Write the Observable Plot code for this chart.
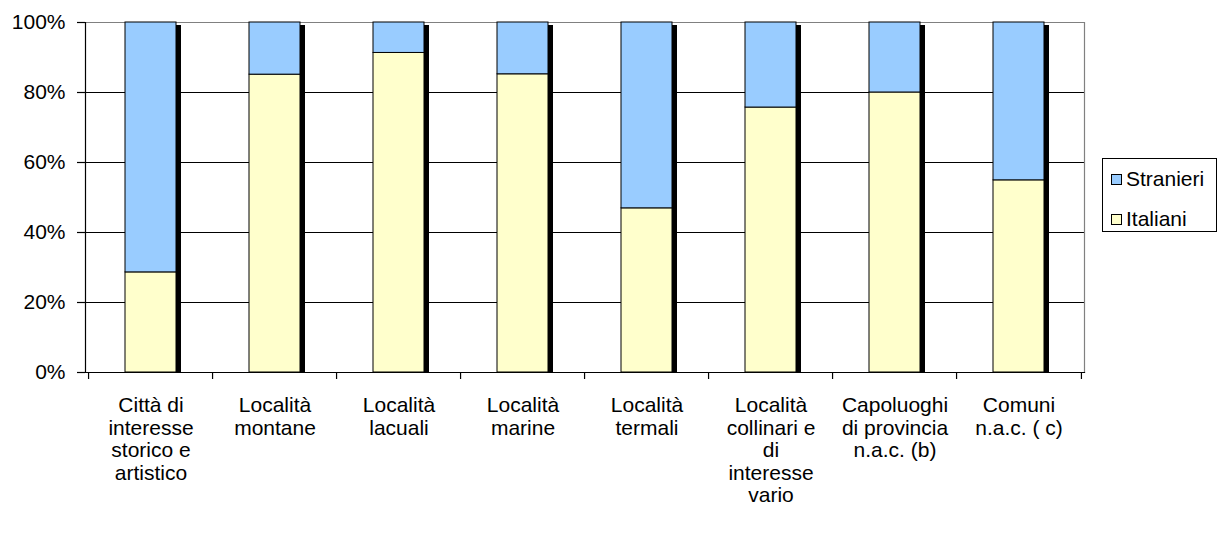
<!DOCTYPE html>
<html>
<head>
<meta charset="utf-8">
<script src="https://cdn.jsdelivr.net/npm/d3@7"></script>
<script src="https://cdn.jsdelivr.net/npm/@observablehq/plot@0.6"></script>
<style>
  html, body { margin: 0; padding: 0; background: #fff; }
  #wrap { position: relative; width: 1220px; height: 534px; font-family: "Liberation Sans", Arial, sans-serif; }
  #legend { position: absolute; left: 1102px; top: 158px; width: 115px; height: 74px; border: 1px solid #000; background: #fff; box-sizing: border-box; }
  .item { position: absolute; left: 8px; font-size: 21px; line-height: 21px; color: #000; white-space: nowrap; }
  .sw { display: inline-block; width: 9px; height: 9px; border: 1px solid #000; margin-right: 4px; vertical-align: 1px; }
</style>
</head>
<body>
<div id="wrap"></div>
<script>
const categories = [
  "Città di\ninteresse\nstorico e\nartistico",
  "Località\nmontane",
  "Località\nlacuali",
  "Località\nmarine",
  "Località\ntermali",
  "Località\ncollinari e\ndi\ninteresse\nvario",
  "Capoluoghi\ndi provincia\nn.a.c. (b)",
  "Comuni\nn.a.c. ( c)"
];
const italiani  = [28.6, 85.1, 91.3, 85.2, 46.9, 75.7, 80.0, 54.9];
const stranieri = [71.4, 14.9,  8.7, 14.8, 53.1, 24.3, 20.0, 45.1];
const seriesNames = ["Italiani", "Stranieri"];
const seriesColors = ["#FFFFCC", "#99CCFF"];
const yTicks = [0, 20, 40, 60, 80, 100];
const gridTicks = [20, 40, 60, 80];

const rows = [];
categories.forEach((c, i) => {
  rows.push({cat: c, series: "Italiani", value: italiani[i]});
  rows.push({cat: c, series: "Stranieri", value: stranieri[i]});
});
const totals = categories.map((c, i) => ({cat: c, total: italiani[i] + stranieri[i]}));

const W = 1220, H = 534, mL = 85, mR = 136, mT = 22, mB = 162;
const step = (W - mL - mR) / categories.length;
const font = "Liberation Sans, Arial, sans-serif";

const chart = Plot.plot({
  width: W, height: H,
  marginLeft: mL, marginRight: mR, marginTop: mT, marginBottom: mB,
  style: {fontFamily: font, fontSize: "21px", color: "#000", background: "#fff"},
  x: {domain: categories, paddingInner: 0.59, paddingOuter: 0.295, label: null},
  y: {domain: [0, 100], label: null},
  color: {domain: seriesNames, range: seriesColors},
  marks: [
    Plot.ruleY(gridTicks, {stroke: "#000", strokeWidth: 1.2}),
    Plot.ruleY([100], {stroke: "#808080", strokeWidth: 1.2}),
    Plot.frame({anchor: "right", stroke: "#808080", strokeWidth: 1.2}),
    Plot.barY(totals, {x: "cat", y: "total", fill: "#000", dx: 5, insetTop: 3}),
    Plot.barY(rows, {x: "cat", y: "value", fill: "series", stroke: "#000", strokeWidth: 1}),
    Plot.frame({anchor: "left", stroke: "#000", strokeWidth: 1.2}),
    Plot.frame({anchor: "bottom", stroke: "#000", strokeWidth: 1.2}),
    Plot.axisY({ticks: yTicks, tickFormat: d => d + "%", tickSize: 8, tickPadding: 12, strokeWidth: 1.2}),
    Plot.axisX({tickSize: 0, tickPadding: 24, lineHeight: 1.07}),
    Plot.axisX({text: null, tickSize: 7, dx: -step / 2, strokeWidth: 1.2}),
    Plot.axisX({ticks: [categories[categories.length - 1]], text: null, tickSize: 7, dx: step / 2, strokeWidth: 1.2})
  ]
});

const wrap = document.getElementById("wrap");
wrap.appendChild(chart);

const legend = document.createElement("div");
legend.id = "legend";
const legendItems = [["Stranieri", "#99CCFF", 9], ["Italiani", "#FFFFCC", 49]];
legendItems.forEach(([name, col, top]) => {
  const it = document.createElement("div");
  it.className = "item";
  it.style.top = top + "px";
  const sw = document.createElement("span");
  sw.className = "sw";
  sw.style.background = col;
  it.appendChild(sw);
  it.appendChild(document.createTextNode(name));
  legend.appendChild(it);
});
wrap.appendChild(legend);
</script>
</body>
</html>
